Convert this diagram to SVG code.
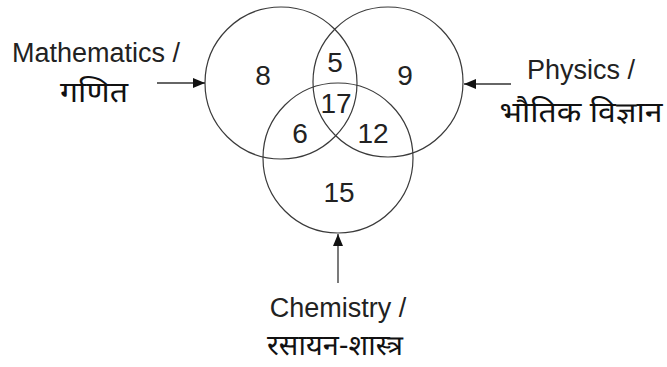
<svg xmlns="http://www.w3.org/2000/svg" width="667" height="367" viewBox="0 0 667 367">
<style>
.c{fill:none;stroke:#3a3a3a;stroke-width:1.2}
.n{font-family:"Liberation Sans",Arial,sans-serif;font-size:28px;fill:#222;text-anchor:middle}
.t{font-family:"Liberation Sans",Arial,sans-serif;font-size:27px;fill:#222;text-anchor:middle}
.d{font-family:"Noto Sans Devanagari","Lohit Devanagari","Mangal","Noto Sans",sans-serif;font-size:28px;fill:#111;text-anchor:middle}
.a{stroke:#333;stroke-width:1.3;fill:none}
</style>
<defs>
<marker id="ah" viewBox="0 0 12 10" refX="12" refY="5" markerWidth="12" markerHeight="10" markerUnits="userSpaceOnUse" orient="auto">
<path d="M0,0 L12,5 L0,10 Z" fill="#111"/>
</marker>
</defs>
<rect width="667" height="367" fill="#fff"/>
<g id="math">
<circle class="c" cx="281" cy="83" r="76"/>
</g>
<g id="phys">
<circle class="c" cx="388" cy="82" r="75"/>
</g>
<g id="chem">
<circle class="c" cx="338" cy="158" r="75"/>
</g>
<g id="numbers">
<text class="n" x="263" y="85">8</text>
<text class="n" x="335" y="72">5</text>
<text class="n" x="405" y="85">9</text>
<text class="n" x="336" y="113">17</text>
<text class="n" x="300" y="143">6</text>
<text class="n" x="373" y="143">12</text>
<text class="n" x="339" y="202">15</text>
</g>
<g id="label-math">
<text class="t" x="96" y="62">Mathematics /</text>
<text class="d" x="94" y="102" textLength="68" lengthAdjust="spacingAndGlyphs">गणित</text>
</g>
<g id="label-phys">
<text class="t" x="581" y="79">Physics /</text>
<text class="d" x="581" y="122" textLength="163" lengthAdjust="spacingAndGlyphs">भौतिक विज्ञान</text>
</g>
<g id="label-chem">
<text class="t" x="338" y="317">Chemistry /</text>
<text class="d" x="335" y="355" textLength="136" lengthAdjust="spacingAndGlyphs">रसायन-शास्त्र</text>
</g>
<g id="connectors">
<line class="a" x1="157" y1="83" x2="205" y2="83" marker-end="url(#ah)"/>
<line class="a" x1="511" y1="84" x2="464" y2="84" marker-end="url(#ah)"/>
<line class="a" x1="338" y1="283" x2="338" y2="234" marker-end="url(#ah)"/>
</g>
</svg>
